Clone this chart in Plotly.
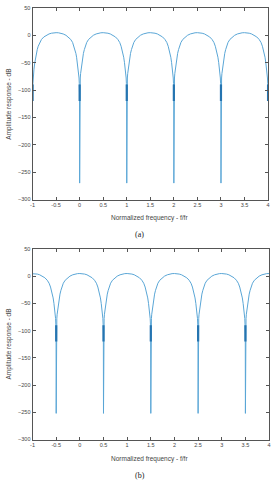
import plotly.graph_objects as go

# Half-lobe profile: offset from a null (f/fr) -> dB
lobe_offsets = [0.003, 0.008, 0.013, 0.02, 0.03, 0.048, 0.065, 0.08, 0.1, 0.12, 0.15, 0.19, 0.24, 0.29, 0.35, 0.4, 0.45, 0.5]
lobe_db = [-105, -88, -78, -70, -62, -50, -40, -33, -26, -20, -13, -7.5, -3, 0, 2.5, 3.8, 4.6, 4.8]

# (a) nulls and their depths
nulls_a = [-1, 0, 1, 2, 3, 4]
depth_a = [-120, -270, -270, -270, -270, -120]
# (b) nulls and their depths
nulls_b = [-1.5, -0.5, 0.5, 1.5, 2.5, 3.5, 4.5]
depth_b = [-120, -252, -252, -252, -252, -252, -120]

# darker thick band near every null
band_top = -90
band_bottom = -120

x_ticks = [-1, -0.5, 0, 0.5, 1, 1.5, 2, 2.5, 3, 3.5, 4]
x_ticklabels = ["-1", "-0.5", "0", "0.5", "1", "1.5", "2", "2.5", "3", "3.5", "4"]
y_ticks = [50, 0, -50, -100, -150, -200, -250, -300]

LINE = "#5aa6d6"
BAND = "#2574b0"


def build(nulls, depths):
    xs, ys = [], []
    for n, d in zip(nulls, depths):
        for off, v in zip(reversed(lobe_offsets), reversed(lobe_db)):
            xs.append(n - off); ys.append(v)
        xs.append(n); ys.append(d)
        for off, v in zip(lobe_offsets, lobe_db):
            xs.append(n + off); ys.append(v)
    return xs, ys


def band(nulls):
    xs, ys = [], []
    for n in nulls:
        xs += [n, n, None]
        ys += [band_top, band_bottom, None]
    return xs, ys


fig = go.Figure()
xa, ya = build(nulls_a, depth_a)
xb, yb = build(nulls_b, depth_b)
fig.add_trace(go.Scatter(x=xa, y=ya, mode="lines", line=dict(color=LINE, width=1), xaxis="x", yaxis="y", showlegend=False))
bx, by = band(nulls_a)
fig.add_trace(go.Scatter(x=bx, y=by, mode="lines", line=dict(color=BAND, width=2.2), xaxis="x", yaxis="y", showlegend=False))
fig.add_trace(go.Scatter(x=xb, y=yb, mode="lines", line=dict(color=LINE, width=1), xaxis="x2", yaxis="y2", showlegend=False))
bx2, by2 = band(nulls_b)
fig.add_trace(go.Scatter(x=bx2, y=by2, mode="lines", line=dict(color=BAND, width=2.2), xaxis="x2", yaxis="y2", showlegend=False))

W, H = 275, 484
ax_common = dict(showgrid=False, zeroline=False, showline=True, linecolor="#555", linewidth=1,
                 mirror="ticks", ticks="inside", ticklen=3, tickcolor="#555",
                 tickfont=dict(size=5.5, color="#444", family="Liberation Sans"))

fig.update_layout(
    width=W, height=H, margin=dict(l=0, r=0, t=0, b=0),
    paper_bgcolor="white", plot_bgcolor="white",
    xaxis=dict(domain=[31 / W, 270 / W], range=[-1, 4], tickvals=x_ticks, ticktext=x_ticklabels, anchor="y", **ax_common),
    yaxis=dict(domain=[1 - 199 / H, 1 - 5 / H], range=[-300, 50], tickvals=y_ticks, anchor="x", **ax_common),
    xaxis2=dict(domain=[31 / W, 271 / W], range=[-1, 4], tickvals=x_ticks, ticktext=x_ticklabels, anchor="y2", **ax_common),
    yaxis2=dict(domain=[1 - 442 / H, 1 - 249 / H], range=[-300, 50], tickvals=y_ticks, anchor="x2", **ax_common),
)

tf = dict(size=6.5, color="#444", family="Liberation Sans")
cf = dict(size=8, color="#222", family="Liberation Serif")
ann = [
    dict(text="Normalized frequency - f/fr", x=150 / W, y=1 - 218 / H, font=tf),
    dict(text="(a)", x=140 / W, y=1 - 234 / H, font=cf),
    dict(text="Amplitude response - dB", x=7 / W, y=1 - 102 / H, font=tf, textangle=-90),
    dict(text="Normalized frequency - f/fr", x=150 / W, y=1 - 462 / H, font=tf),
    dict(text="(b)", x=140 / W, y=1 - 478 / H, font=cf),
    dict(text="Amplitude response - dB", x=7 / W, y=1 - 345 / H, font=tf, textangle=-90),
]
for a in ann:
    fig.add_annotation(xref="paper", yref="paper", showarrow=False, xanchor="center", yanchor="middle", **a)

fig.write_html("out.html")
